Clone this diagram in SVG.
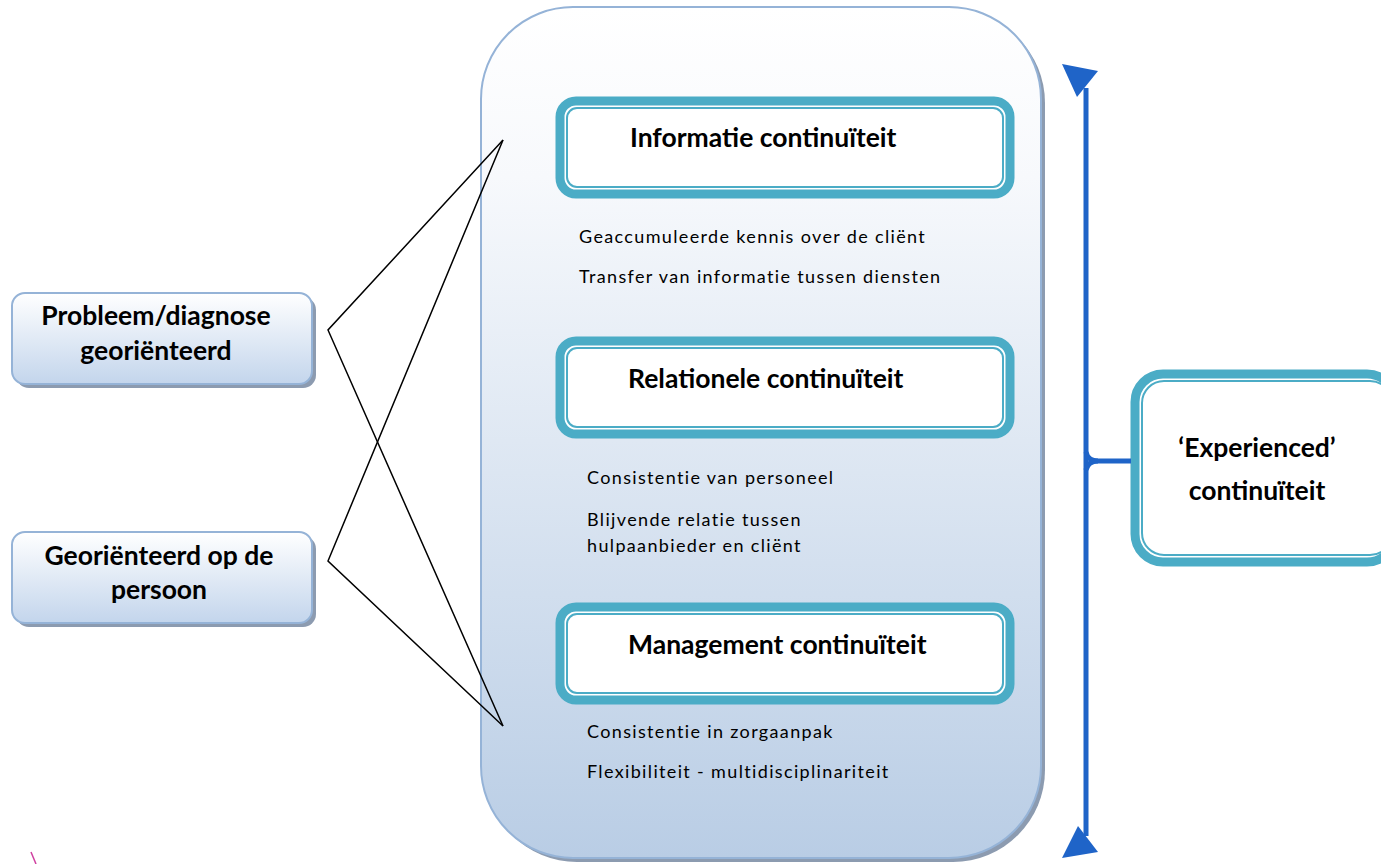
<svg xmlns="http://www.w3.org/2000/svg" width="1381" height="864" viewBox="0 0 1381 864">
<defs>
<linearGradient id="bigGrad" x1="0" y1="0" x2="0" y2="1">
<stop offset="0" stop-color="#ffffff"/>
<stop offset="0.2" stop-color="#f7f9fc"/>
<stop offset="1" stop-color="#b9cde5"/>
</linearGradient>
<linearGradient id="smallGrad" x1="0" y1="0" x2="0" y2="1">
<stop offset="0" stop-color="#ffffff"/>
<stop offset="1" stop-color="#c3d5ec"/>
</linearGradient>
<style>
.shadow{fill:#8c9bb0;}
.outer{fill:url(#bigGrad);stroke:#95b3d7;stroke-width:2;}
.left{fill:url(#smallGrad);stroke:#95b3d7;stroke-width:2;}
.tealO{fill:#ffffff;stroke:#4bacc6;stroke-width:9;}
.tealI{fill:none;stroke:#4bacc6;stroke-width:2;}
.title{font-family:"Lato","Liberation Sans",sans-serif;font-weight:bold;font-size:26.5px;fill:#000;}
.body{font-family:"Lato","Liberation Sans",sans-serif;font-size:18px;fill:#000;letter-spacing:1.35px;}
.conn{stroke:#000;stroke-width:1.5;fill:none;}
.blue{stroke:#1f64c8;stroke-width:5;fill:none;}
.arrow{fill:#1f64c8;}
</style>
</defs>

<g id="container">
<rect class="shadow" x="485" y="11" width="560" height="851" rx="92" ry="92"/>
<rect class="outer" x="481" y="7" width="560" height="851" rx="92" ry="92"/>
</g>

<g id="informatie">
<rect class="tealO" x="560" y="101" width="450" height="93" rx="16" ry="16"/>
<rect class="tealI" x="567" y="108" width="436" height="79" rx="10" ry="10"/>
<text class="title" x="630" y="147">Informatie continuïteit</text>
</g>
<g id="informatie-details">
<text class="body" x="579" y="243">Geaccumuleerde kennis over de cliënt</text>
<text class="body" x="579" y="283">Transfer van informatie tussen diensten</text>
</g>

<g id="relationele">
<rect class="tealO" x="560" y="341" width="450" height="93" rx="16" ry="16"/>
<rect class="tealI" x="567" y="348" width="436" height="79" rx="10" ry="10"/>
<text class="title" x="628" y="388">Relationele continuïteit</text>
</g>
<g id="relationele-details">
<text class="body" x="587" y="484">Consistentie van personeel</text>
<text class="body" x="587" y="526">Blijvende relatie tussen</text>
<text class="body" x="587" y="552">hulpaanbieder en cliënt</text>
</g>

<g id="management">
<rect class="tealO" x="560" y="607" width="450" height="93" rx="16" ry="16"/>
<rect class="tealI" x="567" y="614" width="436" height="79" rx="10" ry="10"/>
<text class="title" x="628" y="654">Management continuïteit</text>
</g>
<g id="management-details">
<text class="body" x="587" y="738">Consistentie in zorgaanpak</text>
<text class="body" x="587" y="778">Flexibiliteit - multidisciplinariteit</text>
</g>

<g id="probleem">
<rect class="shadow" x="16" y="297" width="300" height="91" rx="13" ry="13"/>
<rect class="left" x="12" y="293" width="300" height="91" rx="13" ry="13"/>
<text class="title" x="156" y="325" text-anchor="middle">Probleem/diagnose</text>
<text class="title" x="156" y="360" text-anchor="middle">georiënteerd</text>
</g>

<g id="persoon">
<rect class="shadow" x="16" y="536" width="300" height="91" rx="13" ry="13"/>
<rect class="left" x="12" y="532" width="300" height="91" rx="13" ry="13"/>
<text class="title" x="159" y="565" text-anchor="middle">Georiënteerd op de</text>
<text class="title" x="159" y="599" text-anchor="middle">persoon</text>
</g>

<g id="experienced">
<rect class="tealO" x="1135" y="374" width="260" height="188" rx="28" ry="28"/>
<rect class="tealI" x="1142" y="381" width="250" height="174" rx="22" ry="22"/>
<text class="title" x="1257" y="457" text-anchor="middle">‘Experienced’</text>
<text class="title" x="1257" y="500" text-anchor="middle">continuïteit</text>
</g>

<g id="connectors">
<path class="conn" d="M503,140 L328,330 L503,726"/>
<path class="conn" d="M503,140 L328,561 L503,726"/>
<line class="blue" x1="1086" y1="88" x2="1086" y2="836"/>
<path class="blue" d="M1086,452 Q1088,461 1098,461 L1131,461"/>
<path class="blue" d="M1086,470 Q1088,461 1098,461"/>
<polygon class="arrow" points="1062,64 1098,71 1077,97"/>
<polygon class="arrow" points="1062,858 1098,852 1078,826"/>
<line x1="31" y1="852" x2="36" y2="864" stroke="#d040a0" stroke-width="1.5"/>
</g>
</svg>
